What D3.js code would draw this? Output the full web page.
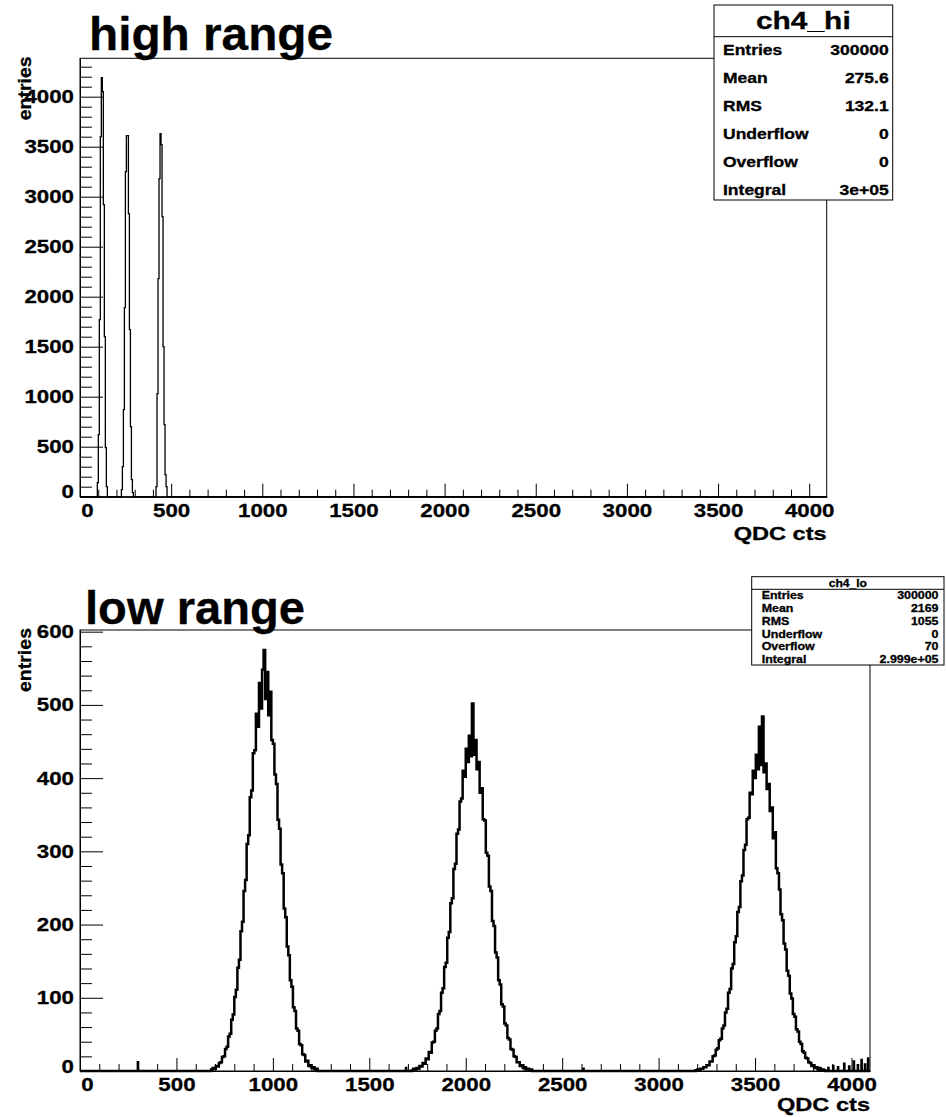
<!DOCTYPE html>
<html>
<head>
<meta charset="utf-8">
<script src="https://cdn.jsdelivr.net/npm/d3@7"></script>
<style>
body { margin: 0; background: #fff; }
text { font-family: "Liberation Sans", Arial, Helvetica, sans-serif; font-weight: bold; fill: #000; stroke: #000; stroke-width: 0.3px; }
</style>
</head>
<body>
<div id="vis"></div>
<script>
// ---------- data ----------
var xTicks = [0, 500, 1000, 1500, 2000, 2500, 3000, 3500, 4000];
var hiYTicks = [0, 500, 1000, 1500, 2000, 2500, 3000, 3500, 4000];
var loYTicks = [0, 100, 200, 300, 400, 500, 600];

// high range: entries per channel, bins of 5.5 channels
var hiBin = 5.5;
var hiPeak1Start = 95;
var hiPeak1 = [140, 620, 1770, 3600, 4190, 4050, 2920, 1600, 490, 100];
var hiPeak2Start = 227;
var hiPeak2 = [70, 300, 870, 1890, 3250, 3610, 3610, 2830, 1670, 700, 170, 40];
var hiPeak3Start = 417;
var hiPeak3 = [100, 1030, 2180, 3180, 3630, 3520, 2800, 1500, 720, 220, 100];

// low range: entries per channel, bins of 8 channels
var loBin = 8;
var loPeak1Start = 680;
var loPeak1 = [2, 4, 3, 7, 6, 11, 12, 19, 20, 30, 33, 47, 51, 70, 77, 101, 111, 141, 152, 191,
  204, 246, 261, 310, 322, 374, 383, 434, 438, 488, 470, 530, 495, 548, 575, 508, 545, 486, 518, 452,
  447, 405, 392, 343, 331, 282, 270, 222, 210, 170, 158, 124, 115, 87, 82, 58, 55, 37, 35, 23,
  22, 13, 14, 7, 8, 4, 5, 2, 3];
var loPeak2Start = 1720;
var loPeak2 = [1, 3, 2, 4, 3, 7, 6, 11, 10, 17, 16, 26, 25, 39, 40, 55, 58, 78, 82, 107,
  113, 142, 148, 182, 190, 229, 236, 276, 283, 324, 330, 368, 372, 410, 402, 440, 422, 458, 430, 502,
  432, 452, 412, 422, 380, 386, 344, 342, 298, 294, 252, 246, 205, 198, 162, 155, 124, 118, 91, 88,
  65, 62, 45, 43, 30, 29, 20, 19, 12, 12, 7, 8, 4, 5, 2, 3, 1, 2];
var loPeak3Start = 3192;
var loPeak3 = [1, 2, 1, 3, 3, 5, 5, 8, 8, 13, 13, 20, 21, 29, 31, 42, 44, 58, 62, 80,
  85, 107, 112, 140, 146, 176, 184, 217, 224, 259, 267, 302, 309, 344, 346, 380, 378, 410, 400, 432,
  412, 470, 418, 484, 408, 420, 385, 392, 355, 360, 318, 326, 277, 270, 248, 214, 206, 174, 166, 137,
  130, 106, 99, 78, 74, 57, 54, 40, 37, 27, 25, 18, 17, 12, 11, 7, 8, 4, 5, 2, 4, 1, 2, 1];
var loSpikeCh = [300, 1690, 2610, 3880, 3905, 3930, 3962, 3988, 4012, 4033, 4052, 4070, 4086];
var loSpikeVal = [12, 4, 3, 4, 7, 5, 10, 6, 13, 8, 15, 9, 17];

var statNames = ["Entries", "Mean", "RMS", "Underflow", "Overflow", "Integral"];
var hiStatValues = ["300000", "275.6", "132.1", "0", "0", "3e+05"];
var loStatValues = ["300000", "2169", "1055", "0", "70", "2.999e+05"];

// ---------- setup ----------
var svg = d3.select("#vis").append("svg")
    .attr("width", 946)
    .attr("height", 1117);

function stretch(sel, k) {
  sel.each(function() {
    var l = this.getComputedTextLength();
    this.setAttribute("textLength", l * k);
    this.setAttribute("lengthAdjust", "spacingAndGlyphs");
  });
}

function buildPoints(peaks, step, spikeCh, spikeVal) {
  var pts = [{ch: 0, v: 0}];
  peaks.forEach(function(p) {
    p.values.forEach(function(v, i) { pts.push({ch: p.start + i * step, v: v}); });
    pts.push({ch: p.start + p.values.length * step, v: 0});
  });
  spikeCh.forEach(function(c, i) {
    pts.push({ch: c, v: spikeVal[i]});
    pts.push({ch: c + 1, v: 0});
  });
  pts.push({ch: 4096, v: 0});
  pts.sort(function(a, b) { return a.ch - b.ch; });
  return pts;
}

var fmt = d3.format("d");

function drawPanel(c) {
  var x = d3.scaleLinear().domain([0, 4096]).range([c.left, c.right]);
  var y = d3.scaleLinear().domain([0, c.yMax]).range([c.bottom, c.top]);
  var g = svg.append("g");

  // histogram outline
  var line = d3.line()
      .x(function(d) { return x(d.ch); })
      .y(function(d) { return y(d.v); })
      .curve(d3.curveStepAfter);
  g.append("path")
      .datum(c.points)
      .attr("d", line)
      .attr("fill", "none")
      .attr("stroke", "#000")
      .attr("stroke-width", c.lineWidth);

  // frame
  g.append("rect")
      .attr("x", c.left).attr("y", c.top)
      .attr("width", c.right - c.left).attr("height", c.bottom - c.top)
      .attr("fill", "none").attr("stroke", "#000");

  // minor ticks
  var xMinor = d3.range(0, 4097, 100).filter(function(d) { return d % 500 !== 0; });
  g.append("g")
      .attr("transform", "translate(0," + c.bottom + ")")
      .call(d3.axisBottom(x).tickValues(xMinor).tickSize(-7).tickSizeOuter(0).tickFormat(""));
  var yMinor = d3.range(0, c.yMax, c.yMinorStep).filter(function(d) { return c.yTicks.indexOf(d) < 0; });
  g.append("g")
      .attr("transform", "translate(" + c.left + ",0)")
      .call(d3.axisLeft(y).tickValues(yMinor).tickSize(-12).tickSizeOuter(0).tickFormat(""));

  // major ticks + labels
  var xa = g.append("g")
      .attr("transform", "translate(0," + c.bottom + ")")
      .call(d3.axisBottom(x).tickValues(xTicks).tickSize(-13).tickSizeOuter(0).tickPadding(7).tickFormat(fmt));
  var ya = g.append("g")
      .attr("transform", "translate(" + c.left + ",0)")
      .call(d3.axisLeft(y).tickValues(c.yTicks).tickSize(-23).tickSizeOuter(0).tickPadding(6).tickFormat(fmt));

  [xa, ya].forEach(function(a) {
    a.selectAll("path, line").attr("stroke", "#000");
    a.selectAll("text")
        .style("font-size", "19px")
        .attr("fill", "#000")
        .each(function() {
          this.setAttribute("textLength", this.textContent.length * 12.4);
          this.setAttribute("lengthAdjust", "spacingAndGlyphs");
        });
  });
  xa.selectAll("text").filter(function(d) { return d === 0; }).attr("x", 7);
  ya.selectAll("text").filter(function(d) { return d === 0; }).attr("y", -5);

  // axis titles
  g.append("text")
      .attr("x", c.right)
      .attr("y", c.bottom + c.xTitleDy)
      .attr("text-anchor", "end")
      .style("font-size", "19px")
      .attr("textLength", 93)
      .attr("lengthAdjust", "spacingAndGlyphs")
      .text("QDC cts");
  g.append("text")
      .attr("transform", "translate(31," + (c.top - 2) + ") rotate(-90)")
      .attr("text-anchor", "end")
      .style("font-size", "18px")
      .attr("textLength", 64)
      .attr("lengthAdjust", "spacingAndGlyphs")
      .text("entries");

  // panel title
  g.append("text")
      .attr("x", c.titleX)
      .attr("y", c.titleY)
      .style("font-size", "46px")
      .attr("textLength", c.titleLen)
      .attr("lengthAdjust", "spacingAndGlyphs")
      .text(c.title);
}

function drawStats(b, values) {
  var g = svg.append("g");
  g.append("rect")
      .attr("x", b.x).attr("y", b.y).attr("width", b.w).attr("height", b.h)
      .attr("fill", "#fff").attr("stroke", "#000");
  g.append("line")
      .attr("x1", b.x).attr("x2", b.x + b.w)
      .attr("y1", b.sepY).attr("y2", b.sepY)
      .attr("stroke", "#000");
  g.append("text")
      .attr("x", b.x + b.w / 2)
      .attr("y", b.titleY)
      .attr("text-anchor", "middle")
      .style("font-size", b.titleSize + "px")
      .text(b.title)
      .call(stretch, b.titleStretch);
  g.selectAll(".name").data(statNames).enter().append("text")
      .attr("x", b.x + b.pad)
      .attr("y", function(d, i) { return b.row0 + i * b.rowStep; })
      .style("font-size", b.fontSize + "px")
      .text(function(d) { return d; })
      .call(stretch, b.stretch);
  g.selectAll(".val").data(values).enter().append("text")
      .attr("x", b.x + b.w - b.padR)
      .attr("y", function(d, i) { return b.row0 + i * b.rowStep; })
      .attr("text-anchor", "end")
      .style("font-size", b.fontSize + "px")
      .text(function(d) { return d; })
      .call(stretch, b.stretch);
}

// ---------- high range ----------
drawPanel({
  left: 80, right: 826.7, top: 58.3, bottom: 496.7,
  yMax: 4384, yTicks: hiYTicks, yMinorStep: 100,
  lineWidth: 1.3, xTitleDy: 43,
  points: buildPoints([
    {start: hiPeak1Start, values: hiPeak1},
    {start: hiPeak2Start, values: hiPeak2},
    {start: hiPeak3Start, values: hiPeak3}
  ], hiBin, [], []),
  title: "high range", titleX: 89, titleY: 49.5, titleLen: 244
});

// ---------- low range ----------
drawPanel({
  left: 80, right: 870, top: 630, bottom: 1071,
  yMax: 602.3, yTicks: loYTicks, yMinorStep: 20,
  lineWidth: 2.5, xTitleDy: 40,
  points: buildPoints([
    {start: loPeak1Start, values: loPeak1},
    {start: loPeak2Start, values: loPeak2},
    {start: loPeak3Start, values: loPeak3}
  ], loBin, loSpikeCh, loSpikeVal),
  title: "low range", titleX: 85, titleY: 624, titleLen: 220
});

drawStats({x: 714, y: 5, w: 178.7, h: 195, sepY: 36.7, title: "ch4_hi",
  titleY: 28.5, titleSize: 23, titleStretch: 1.3,
  row0: 54.5, rowStep: 28.1, fontSize: 14, stretch: 1.25, pad: 9, padR: 4}, hiStatValues);

drawStats({x: 751.7, y: 576.7, w: 192.3, h: 88.3, sepY: 589.3, title: "ch4_lo",
  titleY: 587.3, titleSize: 11, titleStretch: 1.1,
  row0: 599.2, rowStep: 12.8, fontSize: 10.5, stretch: 1.18, pad: 10, padR: 5.5}, loStatValues);
</script>
</body>
</html>
